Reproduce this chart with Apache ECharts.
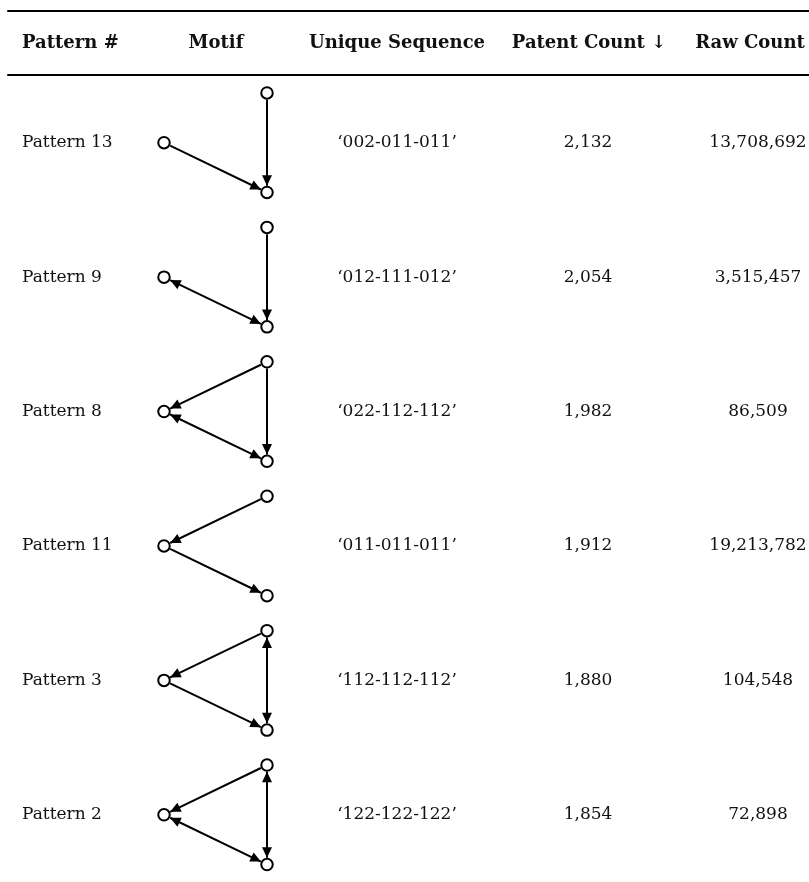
<!DOCTYPE html>
<html>
<head>
<meta charset="utf-8">
<script src="https://cdn.jsdelivr.net/npm/echarts@6/dist/echarts.min.js"></script>
<style>
  html, body { margin: 0; background: #fff; }
  #chart { width: 809px; height: 882px; }
</style>
</head>
<body>
<div id="chart"></div>
<script>
// 表头与各列数据
const headers = ['Pattern #', 'Motif', 'Unique Sequence', 'Patent Count ↓', 'Raw Count'];
const patterns = ['Pattern 13', 'Pattern 9', 'Pattern 8', 'Pattern 11', 'Pattern 3', 'Pattern 2'];
const sequences = ['002-011-011', '012-111-012', '022-112-112', '011-011-011', '112-112-112', '122-122-122'];
const patentCounts = [2132, 2054, 1982, 1912, 1880, 1854];
const rawCounts = [13708692, 3515457, 86509, 19213782, 104548, 72898];

// 三节点 motif 的边：[起点, 终点, 是否双向]
const motifEdges = [
  [['top', 'bottom', false], ['left', 'bottom', false]],
  [['top', 'bottom', false], ['left', 'bottom', true]],
  [['top', 'left', false], ['left', 'bottom', true], ['top', 'bottom', false]],
  [['top', 'left', false], ['left', 'bottom', false]],
  [['top', 'left', false], ['left', 'bottom', false], ['top', 'bottom', true]],
  [['top', 'left', false], ['left', 'bottom', true], ['top', 'bottom', true]],
];

// 节点在 motif 小格中的相对位置（x: 0 左 / 1 右，y: 相对行中心的偏移）
const nodeSpot = { top: [1, -0.37], left: [0, 0], bottom: [1, 0.37] };

// 列位置（像素坐标轴上的列中心 / 左对齐起点）
const colX = [22, 214, 397, 588, 758];
const headX = [22, 216, 397, 589, 750];
const FONT = '"DejaVu Serif", serif';
const INK = '#111';

const fmtNum = v => v.toLocaleString('en-US');

const headerData = headers.map((h, i) => [headX[i], 0.5, h]);
const cellData = [];
patterns.forEach((p, r) => {
  cellData.push([colX[0], r, p, 'left']);
  cellData.push([colX[2], r, '\u2018' + sequences[r] + '\u2019', 'center']);
  cellData.push([colX[3], r, fmtNum(patentCounts[r]), 'center']);
  cellData.push([colX[4], r, fmtNum(rawCounts[r]), 'center']);
});

const nodeData = [];
const edgeData = [];
patterns.forEach((p, r) => {
  ['top', 'left', 'bottom'].forEach(n => nodeData.push([nodeSpot[n][0], r + nodeSpot[n][1]]));
  motifEdges[r].forEach(([a, b, both]) => {
    edgeData.push([nodeSpot[a][0], r + nodeSpot[a][1], nodeSpot[b][0], r + nodeSpot[b][1], both ? 1 : 0]);
  });
});

const NODE_R = 6.8;   // 节点半径 + 描边
const HEAD_L = 10.5;  // 箭头长度
const HEAD_W = 5;     // 箭头半宽

function renderText(bold) {
  return (params, api) => {
    const p = api.coord([api.value(0), api.value(1)]);
    const item = params.dataIndexInside;
    const d = bold ? headerData[item] : cellData[item];
    return {
      type: 'text', x: p[0], y: p[1],
      style: {
        text: d[2], fill: INK,
        font: bold ? 'bold 18px ' + FONT : '17px ' + FONT,
        align: bold ? (item === 0 ? 'left' : 'center') : d[3],
        verticalAlign: 'middle',
      },
    };
  };
}

function renderEdge(params, api) {
  const a = api.coord([api.value(0), api.value(1)]);
  const b = api.coord([api.value(2), api.value(3)]);
  const both = api.value(4) === 1;
  const dx = b[0] - a[0], dy = b[1] - a[1];
  const len = Math.hypot(dx, dy);
  const ux = dx / len, uy = dy / len;
  const px = -uy, py = ux;
  const s = [a[0] + ux * NODE_R, a[1] + uy * NODE_R];
  const e = [b[0] - ux * NODE_R, b[1] - uy * NODE_R];
  const head = (tip, sx, sy) => ({
    type: 'polygon',
    shape: { points: [
      tip,
      [tip[0] - sx * HEAD_L + px * HEAD_W, tip[1] - sy * HEAD_L + py * HEAD_W],
      [tip[0] - sx * HEAD_L - px * HEAD_W, tip[1] - sy * HEAD_L - py * HEAD_W],
    ] },
    style: { fill: '#000' },
  });
  const children = [
    { type: 'line', shape: { x1: s[0], y1: s[1], x2: e[0], y2: e[1] },
      style: { stroke: '#000', lineWidth: 2 } },
    head(e, ux, uy),
  ];
  if (both) children.push(head(s, -ux, -uy));
  return { type: 'group', children };
}

const chart = echarts.init(document.getElementById('chart'));
chart.setOption({
  backgroundColor: '#fff',
  animation: false,
  grid: [
    { left: 8, right: 0, top: 11, height: 64 },          // 表头
    { left: 0, right: 0, top: 75.5, height: 810 },       // 表体文字
    { left: 164, width: 103, top: 75.5, height: 810 },   // motif
  ],
  xAxis: [
    { gridIndex: 0, type: 'value', min: 8, max: 809, position: 'top',
      axisLine: { show: true, onZero: false, lineStyle: { color: '#000', width: 2 } },
      axisTick: { show: false }, axisLabel: { show: false }, splitLine: { show: false } },
    { gridIndex: 0, type: 'value', min: 8, max: 809, position: 'bottom',
      axisLine: { show: true, onZero: false, lineStyle: { color: '#000', width: 2 } },
      axisTick: { show: false }, axisLabel: { show: false }, splitLine: { show: false } },
    { gridIndex: 1, type: 'value', min: 0, max: 809, show: false },
    { gridIndex: 2, type: 'value', min: 0, max: 1, show: false },
  ],
  yAxis: [
    { gridIndex: 0, type: 'value', min: 0, max: 1, show: false },
    { gridIndex: 1, type: 'value', min: -0.5, max: 5.5, inverse: true, show: false },
    { gridIndex: 2, type: 'value', min: -0.5, max: 5.5, inverse: true, show: false },
  ],
  series: [
    { type: 'custom', xAxisIndex: 0, yAxisIndex: 0, silent: true,
      data: headerData.map(d => [d[0], d[1]]), renderItem: renderText(true) },
    { type: 'custom', xAxisIndex: 2, yAxisIndex: 1, silent: true,
      data: cellData.map(d => [d[0], d[1]]), renderItem: renderText(false) },
    { type: 'custom', xAxisIndex: 3, yAxisIndex: 2, silent: true, z: 2,
      data: edgeData, renderItem: renderEdge },
    { type: 'scatter', xAxisIndex: 3, yAxisIndex: 2, silent: true, z: 3, clip: false,
      data: nodeData, symbol: 'circle', symbolSize: 11.5,
      itemStyle: { color: '#fff', borderColor: '#000', borderWidth: 2, opacity: 1 } },
  ],
});

window.addEventListener('resize', () => chart.resize());
</script>
</body>
</html>
